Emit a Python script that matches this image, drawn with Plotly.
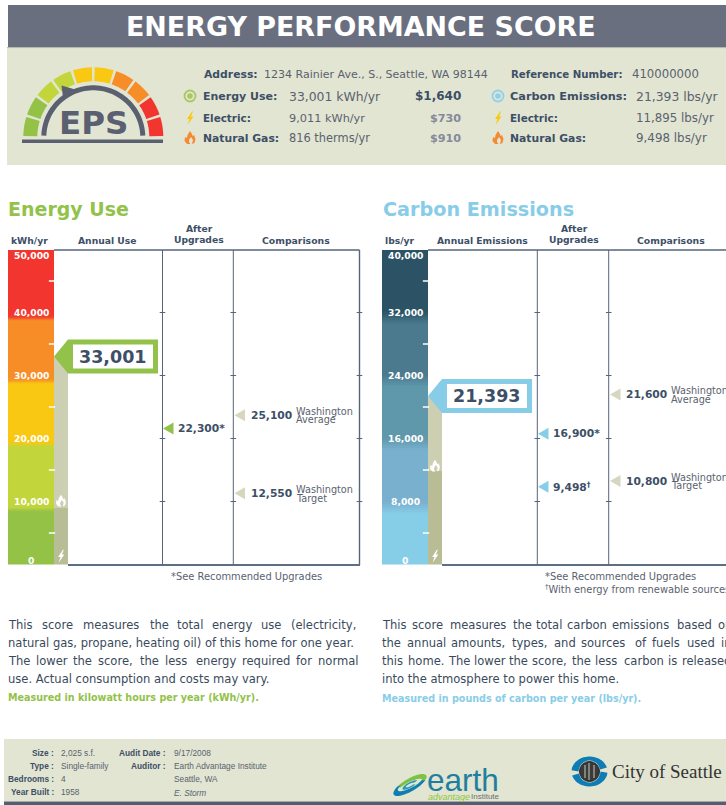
import numpy as np
import plotly.graph_objects as go

W, H = 726, 805
BODY = "DejaVu Sans"
NARROW = "Liberation Sans"
NAVY = "#3D4F66"
GREY = "#5A6270"
GREEN = "#93C24A"
BLUE = "#88CDE8"
KHAKI = "#D6D7BE"

# ---- data ----
energy_band_edges = [0, 8900, 19200, 29200, 39200, 50000]
energy_band_colors = ["#93C247", "#C2D63C", "#F9C813", "#F78D26", "#F2352E"]
energy_tick_labels = ["0", "10,000", "20,000", "30,000", "40,000", "50,000"]
energy_tick_values = [0, 10000, 20000, 30000, 40000, 50000]
energy_minor_ticks = [5000, 15000, 25000, 35000, 45000]
energy_grid_ticks = [10000, 20000, 30000, 40000]
energy_total = 33001
energy_electric = 9011
energy_after_level = [21600]
energy_after_labels = ["22,300*"]
energy_compare_level = [23700, 11300]
energy_compare_values = ["25,100", "12,550"]
energy_compare_names = [["Washington", "Average"], ["Washington", "Target"]]

carbon_band_edges = [0, 7200, 15400, 23400, 31400, 40000]
carbon_band_colors = ["#86CDE8", "#79B0CE", "#5F97AB", "#4B7A8E", "#2B5365"]
carbon_tick_labels = ["0", "8,000", "16,000", "24,000", "32,000", "40,000"]
carbon_tick_values = [0, 8000, 16000, 24000, 32000, 40000]
carbon_minor_ticks = [4000, 12000, 20000, 28000, 36000]
carbon_grid_ticks = [8000, 16000, 24000, 32000]
carbon_total = 21393
carbon_electric = 11895
carbon_after_level = [16600, 9880]
carbon_after_labels = ["16,900*", "9,498<sup>†</sup>"]
carbon_compare_level = [21600, 10600]
carbon_compare_values = ["21,600", "10,800"]
carbon_compare_names = [["Washington", "Average"], ["Washington", "Target"]]

Y0, Y1 = 564.5, 249.5
ky_e = (Y0 - Y1) / 50000
ky_c = (Y0 - Y1) / 40000

fig = go.Figure()
shapes, ann = [], []


def px(x):
    return x / W


def py(y):
    return 1 - y / H


def T(x, y, s, size=11, color=NAVY, bold=False, anchor="left", family=BODY, italic=False):
    if bold:
        s = f"<b>{s}</b>"
    if italic:
        s = f"<i>{s}</i>"
    ann.append(dict(xref="paper", yref="paper", x=px(x), y=py(y), text=s, showarrow=False,
                    xanchor=anchor, yanchor="middle", borderpad=0, borderwidth=0,
                    font=dict(size=size, color=color, family=family)))


def cw(ch):
    if ch in "il.,;:!|'j":
        return .29
    if ch in "ftr()":
        return .39
    if ch in "mMW":
        return .95
    if ch in "w":
        return .82
    if ch.isupper():
        return .68
    return .62


def justify(x0, x1, y, s, size, color):
    words = s.split(" ")
    ww = [sum(cw(c) for c in w) * size for w in words]
    gap = (x1 - x0 - sum(ww)) / (len(words) - 1)
    x = x0
    for w, d in zip(words, ww):
        T(x, y, w, size, color)
        x += d + gap


def rect(x0, y0, x1, y1, color):
    shapes.append(dict(type="rect", xref="paper", yref="paper", x0=px(x0), x1=px(x1), y0=py(y1), y1=py(y0),
                       fillcolor=color, line=dict(width=0), layer="below"))


def poly(pts, color, layer="above"):
    d = "M" + " L".join(f"{px(a):.5f},{py(b):.5f}" for a, b in pts) + " Z"
    shapes.append(dict(type="path", xref="paper", yref="paper", path=d, fillcolor=color,
                       line=dict(width=0), layer=layer))


def line(x0, y0, x1, y1, color, w):
    shapes.append(dict(type="line", xref="paper", yref="paper", x0=px(x0), x1=px(x1), y0=py(y0), y1=py(y1),
                       line=dict(color=color, width=w), layer="above"))


def ring(cx, cy, r, color, fill=None, w=1.5):
    shapes.append(dict(type="circle", xref="paper", yref="paper", x0=px(cx - r), x1=px(cx + r), y0=py(cy + r),
                       y1=py(cy - r), line=dict(color=color, width=w), fillcolor=fill or "rgba(0,0,0,0)",
                       layer="above"))


def bolt(cx, cy, s, color):
    p = [(2, -6.5), (-3, 1), (-.5, 1), (-2.5, 7), (3.5, -1.5), (1, -1.5), (3, -6.5)]
    poly([(cx + a * s, cy + b * s) for a, b in p], color)


def flame(cx, cy, s, color):
    p = [(0, -7), (2, -4), (2.5, -2), (4, -3), (5.5, 1), (4.5, 5), (2, 6), (3, 2), (1, -1), (-1, 2), (-1, 4), (0.5, 6),
         (-3, 6), (-5.5, 3), (-5, -1), (-3, 0), (-2.5, -3)]
    poly([(cx + a * s, cy + b * s) for a, b in p], color)


def polar(cx, cy, r, deg):
    a = np.radians(deg)
    return cx + r * np.cos(a), cy - r * np.sin(a)


def tilted(cx, cy, rx, ry, tilt, a0, a1, n=30):
    t = np.radians(tilt)
    out = []
    for a in np.linspace(a0, a1, n):
        u, v = rx * np.cos(np.radians(a)), ry * np.sin(np.radians(a))
        out.append((cx + u * np.cos(t) + v * np.sin(t), cy - u * np.sin(t) + v * np.cos(t) * -1))
    return out


def crescent(cx, cy, o, i, tilt, a0, a1, color, shift=(0, 0)):
    poly(tilted(cx, cy, o[0], o[1], tilt, a0, a1) + tilted(cx + shift[0], cy + shift[1], i[0], i[1], tilt, a1, a0), color)


def hex2rgb(h):
    return [int(h[i:i + 2], 16) for i in (1, 3, 5)]


# ---- header & panels ----
rect(8, 5, 726, 47, "#6A6F80")
rect(7, 47, 726, 48.5, "#B6B8AE")
rect(7, 48.5, 726, 165, "#E2E5D2")
rect(4, 739, 726, 801.5, "#E2E5D2")
rect(4, 801.5, 726, 805, "#555D6E")
T(361, 27, "ENERGY PERFORMANCE SCORE", 26.9, "white", True, "center")

# gauge
cx, cy = 93.3, 137.3
gcols = ["#93C247", "#93C247", "#C2D63C", "#C2D63C", "#F9C813", "#F9C813", "#F78D26", "#F78D26", "#F2352E", "#F2352E"]
for i, c in enumerate(gcols):
    a0, a1 = 180 - 18 * i - 1.1, 180 - 18 * (i + 1) + 1.1
    aa = np.linspace(a0, a1, 12)
    poly([polar(cx, cy, 70, a) for a in aa] + [polar(cx, cy, 56, a) for a in aa[::-1]], c)
aa = np.linspace(178, 2, 60)
poly([polar(cx, cy, 52, a) for a in aa] + [polar(cx, cy, 47, a) for a in aa[::-1]], "#5A6070")
poly([(61.5, 85.5), (77, 90), (63, 97.5)], "#5A6070")
rect(22, 139.5, 163, 143, "#5A6070")
T(93.5, 123, "EPS", 32.5, "#5A6070", True, "center")

# info block
T(204, 74, "Address:", 10.8, NAVY, True)
T(264, 74, "1234 Rainier Ave., S., Seattle, WA 98144", 11, GREY)
T(511, 74, "Reference Number:", 10.2, NAVY, True)
T(632, 74, "410000000", 11.7, GREY)
rows_l = [("Energy Use:", "33,001 kWh/yr", "$1,640", 96, 11, 12.4, 12, NAVY),
          ("Electric:", "9,011 kWh/yr", "$730", 118, 10.4, 11.3, 11.2, "#85899A"),
          ("Natural Gas:", "816 therms/yr", "$910", 138, 10.8, 11.4, 11.2, "#85899A")]
for a, b, c, y, s1, s2, s3, col in rows_l:
    T(203, y, a, s1, NAVY, True)
    T(289, y, b, s2, GREY)
    T(461, y, c, s3, col, True, "right")
rows_r = [("Carbon Emissions:", "21,393 lbs/yr", 96, 11.3, 12.4), ("Electric:", "11,895 lbs/yr", 118, 10.4, 11.8),
          ("Natural Gas:", "9,498 lbs/yr", 138, 10.8, 11.9)]
for a, b, y, s1, s2 in rows_r:
    T(510, y, a, s1, NAVY, True)
    T(636, y, b, s2, GREY)
ring(190, 96, 5.5, "#A9C860", None, 1.8)
ring(190, 96, 2.8, "#A9C860", "#A9C860", 0)
ring(498, 96, 5.5, "#8FD0EA", None, 1.8)
ring(498, 96, 2.8, "#8FD0EA", "#8FD0EA", 0)
for x in (190, 498):
    bolt(x, 118, 1, "#F9C813")
    flame(x, 138, 1, "#F58A33")

# section titles
T(8, 209, "Energy Use", 19, GREEN, True)
T(383, 209, "Carbon Emissions", 19.2, BLUE, True)

HS = 9.2
T(29, 240, "kWh/yr", HS, NAVY, True, "center")
T(107, 240, "Annual Use", HS, NAVY, True, "center")
T(199, 228, "After", HS, NAVY, True, "center")
T(199, 239.5, "Upgrades", HS, NAVY, True, "center")
T(295.5, 240, "Comparisons", 9.3, NAVY, True, "center")
T(399.5, 240, "lbs/yr", HS, NAVY, True, "center")
T(482, 240, "Annual Emissions", HS, NAVY, True, "center")
T(574, 228, "After", HS, NAVY, True, "center")
T(574, 239.5, "Upgrades", HS, NAVY, True, "center")
T(671, 240, "Comparisons", 9.3, NAVY, True, "center")

# chart frame lines
LC = "#55657C"
line(54, 250, 359.5, 250, LC, 1.4)
line(359.5, 250, 359.5, 565, LC, 1.4)
line(68, 565, 360, 565, "#5B7085", 2)
line(162.5, 250, 162.5, 565, LC, 1)
line(233.3, 250, 233.3, 565, LC, 1)
line(428, 250, 726, 250, LC, 1.4)
line(442, 565, 726, 565, "#5B7085", 2)
line(537.3, 250, 537.3, 565, LC, 1)
line(608.7, 250, 608.7, 565, LC, 1)


def add_panel(edges, colors, yax, xc, total, electric, ky, blur, gas_c="#CDCFB2", elec_c="#B8BD96"):
    for lo, hi, c in zip(edges[:-1], edges[1:], colors):
        fig.add_trace(go.Bar(x=[xc], y=[hi - lo], base=[lo], width=46, marker=dict(color=c, line=dict(width=0)),
                             yaxis=yax, showlegend=False, hoverinfo="skip"))
    # soft colour blend at each band edge
    n = 6
    for e, c0, c1 in zip(edges[1:-1], colors[:-1], colors[1:]):
        a, b = np.array(hex2rgb(c0)), np.array(hex2rgb(c1))
        d = blur / ky
        for k in range(n):
            f = (k + .5) / n
            col = a + (b - a) * f
            fig.add_trace(go.Bar(x=[xc], y=[2 * d / n], base=[e - d + 2 * d * k / n], width=46,
                                 marker=dict(color=f"rgb({col[0]:.0f},{col[1]:.0f},{col[2]:.0f})", line=dict(width=0)),
                                 yaxis=yax, showlegend=False, hoverinfo="skip"))
    fig.add_trace(go.Bar(x=[xc + 30], y=[electric], base=[0], width=14, marker=dict(color=elec_c, line=dict(width=0)),
                         yaxis=yax, showlegend=False))
    fig.add_trace(go.Bar(x=[xc + 30], y=[total - electric], base=[electric], width=14,
                         marker=dict(color=gas_c, line=dict(width=0)), yaxis=yax, showlegend=False))


add_panel(energy_band_edges, energy_band_colors, "y", 31, energy_total, energy_electric, ky_e, 2.5)
add_panel(carbon_band_edges, carbon_band_colors, "y2", 405, carbon_total, carbon_electric, ky_c, 6)


def poly_val(xs, val, dys, ky, color, yax):
    fig.add_trace(go.Scatter(x=xs, y=[val + d / ky for d in dys], mode="lines", fill="toself", fillcolor=color,
                             line=dict(width=0, color=color), yaxis=yax, showlegend=False, hoverinfo="skip"))


def callout(x, val, ky, color, yax, label):
    poly_val([x, x + 14, x + 104, x + 104, x + 14, x], val, [0, 17, 17, -17, -17, 0], ky, color, yax)
    poly_val([x + 19, x + 99, x + 99, x + 19, x + 19], val, [12, 12, -12, -12, 12], ky, "white", yax)
    ann.append(dict(xref="x", yref=yax, x=x + 59, y=val, text=f"<b>{label}</b>", showarrow=False, borderwidth=0,
                    font=dict(size=17.5, color=NAVY, family=BODY), xanchor="center", yanchor="middle"))


callout(54, energy_total, ky_e, GREEN, "y", "33,001")
callout(428, carbon_total, ky_c, BLUE, "y2", "21,393")


def tri(x, val, ky, color, yax):
    poly_val([x, x + 10.5, x + 10.5, x], val, [0, 6, -6, 0], ky, color, yax)


def marks(x, levels, labels, ky, color, yax, names=None, lx=None, nx=None):
    for i, (v, l) in enumerate(zip(levels, labels)):
        tri(x, v, ky, color, yax)
        ann.append(dict(xref="x", yref=yax, x=lx, y=v, text=f"<b>{l}</b>", showarrow=False, xanchor="left",
                        yanchor="middle", borderwidth=0, borderpad=0, font=dict(size=10.7, color=NAVY, family=BODY)))
        if names:
            ann.append(dict(xref="x", yref=yax, x=nx, y=v, yshift=4, text=names[i][0], showarrow=False, xanchor="left",
                            yanchor="middle", borderwidth=0, borderpad=0, font=dict(size=9.7, color=GREY, family=BODY)))
            ann.append(dict(xref="x", yref=yax, x=nx, y=v, yshift=-4.8, text=names[i][1], showarrow=False, xanchor="left",
                            yanchor="middle", borderwidth=0, borderpad=0, font=dict(size=9.7, color=GREY, family=BODY)))


marks(163, energy_after_level, energy_after_labels, ky_e, GREEN, "y", lx=178)
marks(234.5, energy_compare_level, energy_compare_values, ky_e, KHAKI, "y", energy_compare_names, 251, 296)
marks(538, carbon_after_level, carbon_after_labels, ky_c, BLUE, "y2", lx=553)
marks(610, carbon_compare_level, carbon_compare_values, ky_c, KHAKI, "y2", carbon_compare_names, 626, 671)


def ticks(x, vals, yax, color, size, w=1):
    fig.add_trace(go.Scatter(x=[x] * len(vals), y=vals, mode="markers", yaxis=yax, showlegend=False, hoverinfo="skip",
                             marker=dict(symbol="line-ew", size=size, line=dict(color=color, width=w))))


for x in (162.5, 233.3, 359.5):
    ticks(x, energy_grid_ticks, "y", LC, 4)
for x in (537.3, 608.7):
    ticks(x, carbon_grid_ticks, "y2", LC, 4)
ticks(52, energy_minor_ticks, "y", "white", 4.5, 1.5)
ticks(426, carbon_minor_ticks, "y2", "white", 4.5, 1.5)


def band_labels(x, vals, labels, yax):
    for v, l in zip(vals, labels):
        sh = 4.5 if v == 0 else (-5.5 if v == vals[-1] else 0)
        ann.append(dict(xref="x", yref=yax, x=x, y=v, yshift=sh, text=f"<b>{l}</b>", showarrow=False, xanchor="center",
                        yanchor="middle", borderwidth=0, font=dict(size=9.2, color="white", family=BODY)))


band_labels(31, energy_tick_values, energy_tick_labels, "y")
band_labels(405, carbon_tick_values, carbon_tick_labels, "y2")

flame(61, 501, .9, "white")
bolt(61, 556, .95, "white")
flame(435, 466, .9, "white")
bolt(435, 556, .95, "white")

# footnotes
T(246, 576, "*See Recommended Upgrades", 9.9, GREY, False, "center")
T(545, 576, "*See Recommended Upgrades", 9.9, GREY)
T(545, 589, "<sup>†</sup>With energy from renewable sources", 9.9, GREY)

# paragraphs
PS = 11.55
TXT = "#3A4A5C"
left = ["This score measures the total energy use (electricity,", "natural gas, propane, heating oil) of this home for one year.",
        "The lower the score, the less energy required for normal", "use. Actual consumption and costs may vary."]
right = ["This score measures the total carbon emissions based on", "the annual amounts, types, and sources of fuels used in",
         "this home. The lower the score, the less carbon is released", "into the atmosphere to power this home."]
justify(8, 358, 625, left[0], PS, TXT)
T(8, 643, left[1], PS, TXT)
justify(8, 358, 661, left[2], PS, TXT)
T(8, 679, left[3], PS, TXT)
justify(382, 732, 625, right[0], PS, TXT)
justify(382, 732, 643, right[1], PS, TXT)
justify(382, 733, 661, right[2], PS, TXT)
T(382, 679, right[3], PS, TXT)
T(8, 697, "Measured in kilowatt hours per year (kWh/yr).", 9.6, GREEN, True)
T(382, 698, "Measured in pounds of carbon per year (lbs/yr).", 9.6, BLUE, True)

# footer
FS = 8.3
for lab, val, y in [("Size :", "2,025 s.f.", 752.5), ("Type :", "Single-family", 765.7), ("Bedrooms :", "4", 779.3),
                    ("Year Built :", "1958", 792.3)]:
    T(54, y, lab, FS, NAVY, True, "right", NARROW)
    T(61, y, val, FS, GREY, family=NARROW)
for lab, y in [("Audit Date :", 752.5), ("Auditor :", 765.7)]:
    T(166, y, lab, FS, NAVY, True, "right", NARROW)
T(174, 752.5, "9/17/2008", FS, GREY, family=NARROW)
T(174, 765.7, "Earth Advantage Institute", FS, GREY, family=NARROW)
T(174, 779.3, "Seattle, WA", FS, GREY, family=NARROW)
T(174, 792.8, "E. Storm", FS, GREY, family=NARROW, italic=True)

# logos
T(427, 780, "earth", 31.5, "#1F7F9F", False, "left", "Liberation Sans")
T(470, 796.5, "advantage", 9, "#8CC63F", False, "right", "Liberation Sans", True)
T(471, 796.5, "Institute", 8, "#6B6F70", False, "left", "Liberation Sans")
crescent(410, 785, (17.5, 9.5), (13, 5.5), 22, -5, 150, "#7DC242", (0, 0.8))
crescent(410, 785, (17.5, 9.5), (13, 5.5), 22, 150, 350, "#0F7FB0", (0, -0.8))
crescent(410, 785, (8, 4), (4.5, 1.8), 22, 30, 330, "#2A9BB5")
T(612, 771, "City of Seattle", 19, "#333333", False, "left", "Liberation Serif")
crescent(589.5, 771.5, (18, 15), (11, 12), 0, 15, 175, "#0E7CB5", (0, 1))
crescent(589.5, 771.5, (18, 15), (11, 12), 0, 195, 355, "#0E7CB5", (0, -1))
ring(589.5, 771.5, 10, "#222222", "#3A3A3A", 1)
line(585, 765, 585, 778, "#C8CAB8", 1)
line(589, 763, 589, 780, "#C8CAB8", 1)
line(594, 765, 594, 778, "#C8CAB8", 1)

fig.update_layout(width=W, height=H, margin=dict(l=0, r=0, t=0, b=0), paper_bgcolor="white", plot_bgcolor="rgba(0,0,0,0)",
                  barmode="overlay", bargap=0, autosize=False, shapes=shapes, annotations=ann,
                  xaxis=dict(range=[0, W], domain=[0, 1], visible=False, fixedrange=True),
                  yaxis=dict(range=[0, 50000], domain=[1 - Y0 / H, 1 - Y1 / H], visible=False, fixedrange=True),
                  yaxis2=dict(range=[0, 40000], domain=[1 - Y0 / H, 1 - Y1 / H], visible=False, overlaying="y",
                              fixedrange=True))
fig.write_html("out.html", config=dict(displayModeBar=False),
               post_script="document.body.style.margin='0';document.body.style.overflow='hidden';")
